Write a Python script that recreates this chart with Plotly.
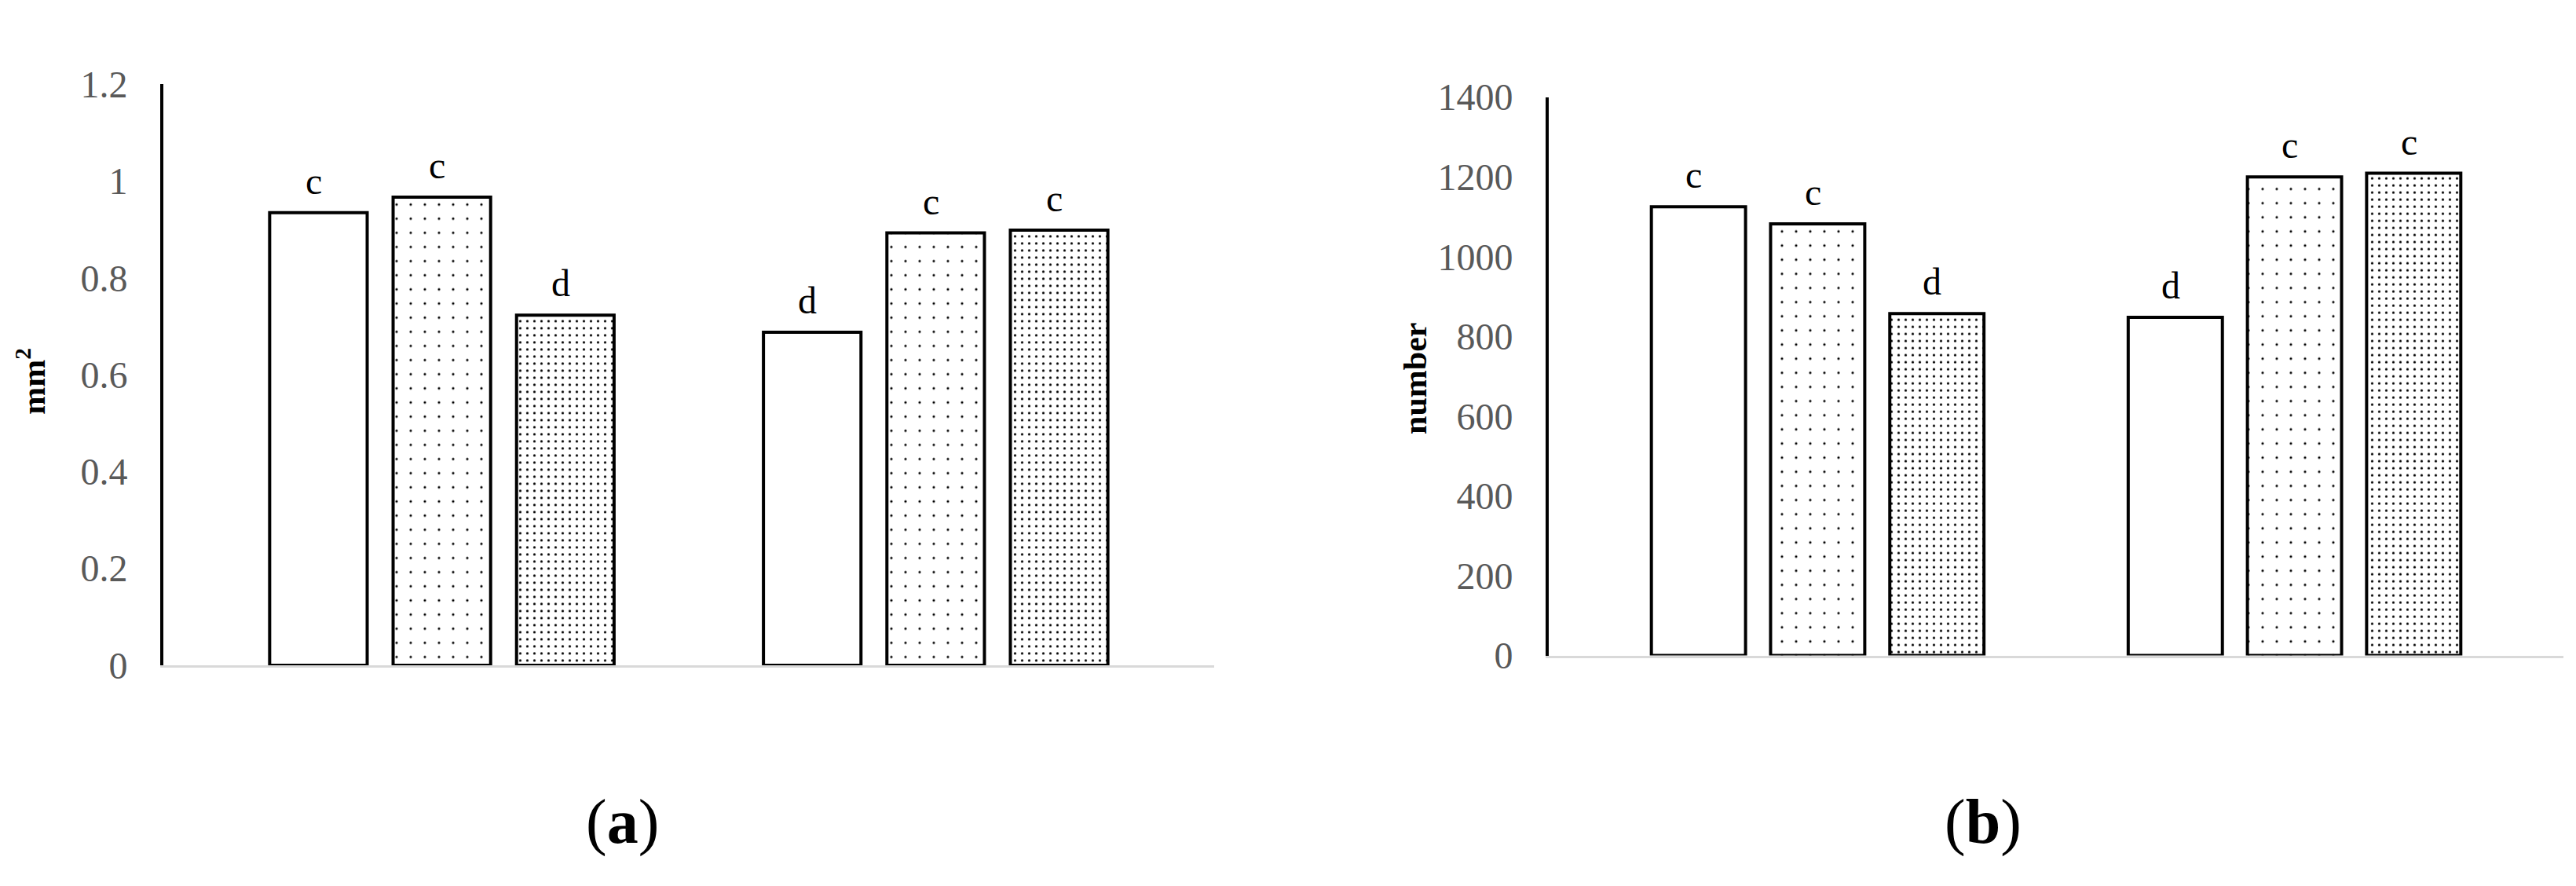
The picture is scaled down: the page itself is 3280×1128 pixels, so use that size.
import plotly.graph_objects as go

# two treatment groups per panel (no visible category names)
groups = ["group 1", "group 2"]

# panel (a): area, mm2
area_s1 = [0.935, 0.688]
area_s2 = [0.967, 0.893]
area_s3 = [0.723, 0.899]
area_letters = [["c", "d"], ["c", "c"], ["d", "c"]]
area_ticks = [0, 0.2, 0.4, 0.6, 0.8, 1, 1.2]

# panel (b): number
num_s1 = [1125, 848]
num_s2 = [1082, 1200]
num_s3 = [857, 1209]
num_letters = [["c", "d"], ["c", "c"], ["d", "c"]]
num_ticks = [0, 200, 400, 600, 800, 1000, 1200, 1400]

SERIF = "Liberation Serif"
patterns = [
    dict(shape=""),
    dict(shape=".", size=18, solidity=0.025, fgcolor="black", bgcolor="white", fillmode="replace"),
    dict(shape=".", size=9, solidity=0.1, fgcolor="black", bgcolor="white", fillmode="replace"),
]

fig = go.Figure()
panels = [
    ("x", "y", [area_s1, area_s2, area_s3], area_letters),
    ("x2", "y2", [num_s1, num_s2, num_s3], num_letters),
]
annotations = []
for xa, ya, series, letters in panels:
    for k, vals in enumerate(series):
        fig.add_trace(go.Bar(
            x=groups, y=vals, xaxis=xa, yaxis=ya,
            marker=dict(color="white", line=dict(color="black", width=4),
                        pattern=patterns[k]),
            showlegend=False, hoverinfo="skip",
        ))
        # significance letters above each bar
        for i, v in enumerate(vals):
            annotations.append(dict(
                x=i + (k - 1) * 0.25, y=v, xref=xa, yref=ya,
                text=letters[k][i], showarrow=False, xanchor="center", yanchor="bottom",
                xshift=-6, yshift=12, font=dict(family=SERIF, size=48, color="black"),
            ))

axis_x = dict(showline=True, linecolor="#d9d9d9", linewidth=3, showticklabels=False,
              ticks="", showgrid=False, zeroline=False, range=[-0.564, 1.564])
axis_y = dict(showline=True, linecolor="black", linewidth=4, ticks="", showgrid=False,
              zeroline=False, ticklabelstandoff=32,
              tickfont=dict(family=SERIF, size=48, color="#595959"))

fig.update_layout(
    width=3280, height=1128,
    margin=dict(l=0, r=0, t=0, b=0),
    paper_bgcolor="white", plot_bgcolor="white",
    barmode="group", bargap=0.25, bargroupgap=0.21,
    xaxis=dict(axis_x, domain=[200 / 3280, 1538 / 3280], anchor="y"),
    yaxis=dict(axis_y, domain=[1 - 853 / 1128, 1 - 77 / 1128], anchor="x",
               range=[0, 1.2], tickvals=area_ticks),
    xaxis2=dict(axis_x, domain=[1964 / 3280, 3256 / 3280], anchor="y2"),
    yaxis2=dict(axis_y, domain=[1 - 840 / 1128, 1 - 94 / 1128], anchor="x2",
                range=[0, 1400], tickvals=num_ticks),
)

# axis titles and panel labels
annotations += [
    dict(x=32 / 3280, y=1 - 474 / 1128, xref="paper", yref="paper", textangle=-90,
         xanchor="center", yanchor="middle",
         text="<b>mm<sup>2</sup></b>", showarrow=False,
         font=dict(family=SERIF, size=42, color="black")),
    dict(x=1794 / 3280, y=1 - 470 / 1128, xref="paper", yref="paper", textangle=-90,
         xanchor="center", yanchor="middle",
         text="<b>number</b>", showarrow=False,
         font=dict(family=SERIF, size=42, color="black")),
    dict(x=784 / 3280, y=1 - 1062 / 1128, xref="paper", yref="paper",
         xanchor="center", yanchor="middle",
         text="(<b>a</b>)", showarrow=False,
         font=dict(family=SERIF, size=80, color="black")),
    dict(x=2517 / 3280, y=1 - 1062 / 1128, xref="paper", yref="paper",
         xanchor="center", yanchor="middle",
         text="(<b>b</b>)", showarrow=False,
         font=dict(family=SERIF, size=80, color="black")),
]
fig.update_layout(annotations=annotations)

fig.write_html("out.html")
